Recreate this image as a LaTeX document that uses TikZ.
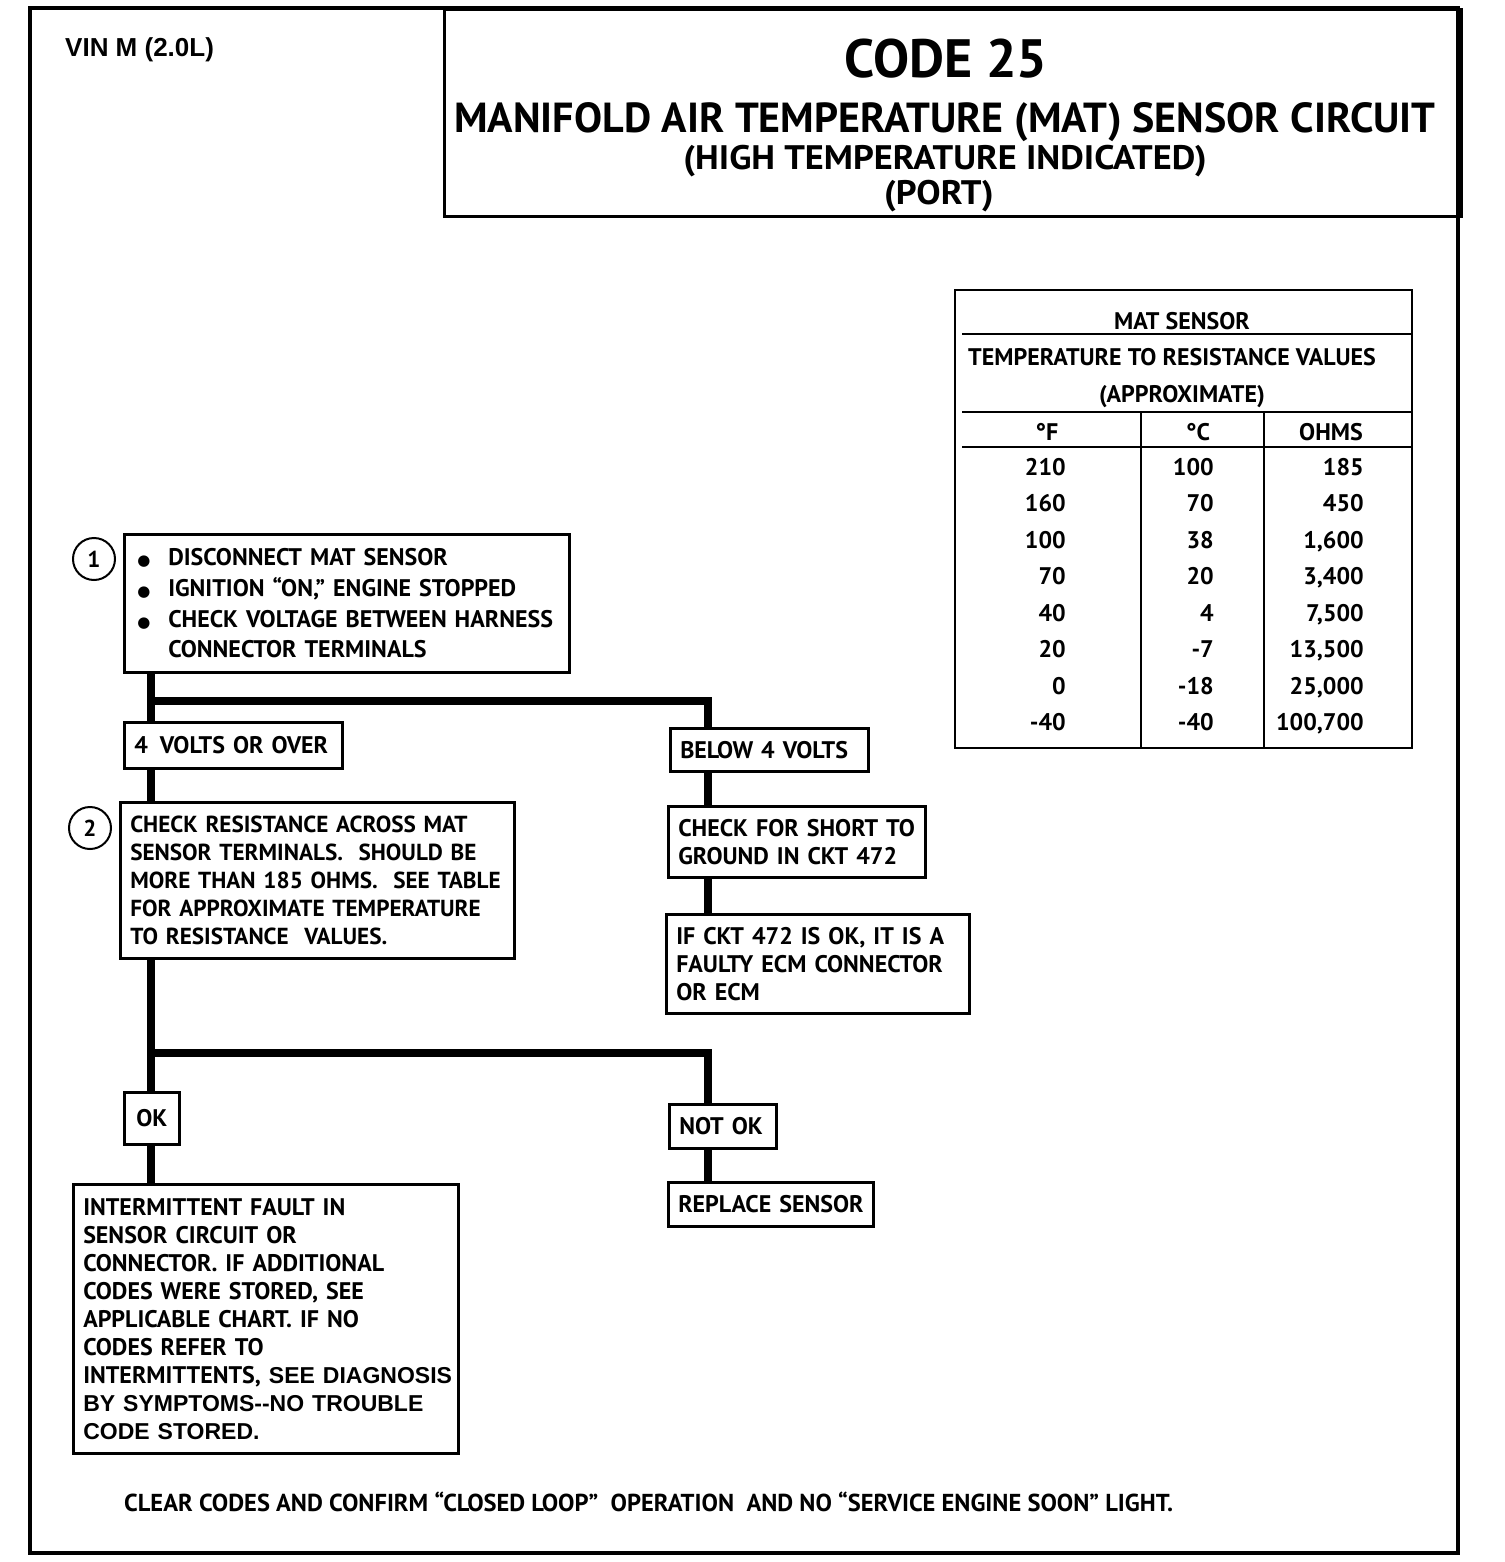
\documentclass[tikz,border=0pt]{standalone}
\usepackage{fontspec}
\setmainfont{PT Sans}
\newfontfamily\hfont{PT Sans}
\newfontfamily\wfont[FakeStretch=1.07]{PT Sans}
\newfontfamily\bfont{PT Sans}
\newfontfamily\afont{Liberation Sans}
\newfontfamily\dfont{DejaVu Sans}
\newcommand\bul{\makebox[34pt][l]{\hspace{3pt}{\dfont\fontsize{15}{15}\selectfont ●}}}
\newcommand\li[1]{\mbox{#1}}
\newcommand\ar{\afont\bfseries\fontsize{23}{28}\selectfont}
\begin{document}
\begin{tikzpicture}[x=1pt,y=-1pt,
  box/.style={draw, line width=2.5pt, anchor=north west, align=left, inner xsep=10pt, inner ysep=0pt,
    font=\bfont\bfseries\fontsize{24}{28}\selectfont},
  trunk/.style={line width=8pt},
  circ/.style={circle, draw, line width=2pt, minimum size=42pt, inner sep=0pt, font=\bfont\bfseries\fontsize{23}{23}\selectfont},
  ttxt/.style={font=\bfont\bfseries\fontsize{24}{24}\selectfont, inner sep=0pt},
  thin/.style={line width=2.5pt}]
\useasboundingbox (0,0) rectangle (1504,1562);
\fill[white] (0,0) rectangle (1504,1562);
% outer frame
\draw[line width=4pt] (30,8) rectangle (1458,1553);
\node[font=\afont\bfseries\fontsize{26}{26}\selectfont, anchor=base west, inner sep=0pt] (vin) at (65,57) {VIN M (2.0L)};
% title box
\node[draw, line width=3pt, anchor=north west, minimum width=1017pt, minimum height=207pt, inner sep=0pt] (tbox) at (443,8) {};
\node[font=\hfont\bfseries\fontsize{54}{54}\selectfont, anchor=base, inner sep=0pt] (code) at (946,78) {CODE 25};
\node[font=\hfont\bfseries\fontsize{42}{42}\selectfont, anchor=base, inner sep=0pt] (t1) at (945,133) {MANIFOLD AIR TEMPERATURE (MAT) SENSOR CIRCUIT};
\node[font=\wfont\bfseries\fontsize{34}{34}\selectfont, anchor=base, inner sep=0pt] (t2) at (945,170) {(HIGH TEMPERATURE INDICATED)};
\node[font=\wfont\bfseries\fontsize{34}{34}\selectfont, anchor=base, inner sep=0pt] (t3) at (939,205) {(PORT)};
% table
\draw[thin] (955,290) rectangle (1412,748);
\draw[thin] (962,334) -- (1412,334);
\draw[thin] (962,412) -- (1412,412);
\draw[thin] (962,447) -- (1412,447);
\draw[thin] (1141,412) -- (1141,748);
\draw[thin] (1264,412) -- (1264,748);
\node[ttxt, anchor=base] (th1) at (1182,329) {MAT SENSOR};
\node[ttxt, anchor=base west] (th2) at (968,365) {TEMPERATURE TO RESISTANCE VALUES};
\node[ttxt, anchor=base] (th3) at (1182,402) {(APPROXIMATE)};
\node[ttxt, anchor=base] (hf) at (1047,440) {°F};
\node[ttxt, anchor=base] (hc) at (1198,440) {°C};
\node[ttxt, anchor=base] (ho) at (1331,440) {OHMS};
\foreach \f/\c/\o [count=\i] in {210/100/185, 160/70/450, 100/38/{1,600}, 70/20/{3,400}, 40/4/{7,500}, 20/-7/{13,500}, 0/-18/{25,000}, -40/-40/{100,700}}{
  \node[ttxt, anchor=base east] (rf\i) at (1066,{475+36.5*(\i-1)}) {\f};
  \node[ttxt, anchor=base east] (rc\i) at (1214,{475+36.5*(\i-1)}) {\c};
  \node[ttxt, anchor=base east] (ro\i) at (1364,{475+36.5*(\i-1)}) {\o};
}
% flowchart
\coordinate (L) at (151,0);
\coordinate (R) at (708,0);
\node[circ] (c1) at (94,559) {1};
\node[box, text width=425pt, minimum height=138pt, font=\bfont\bfseries\fontsize{24}{30.7}\selectfont] (s1) at (123,533)
  {\li{\bul DISCONNECT MAT SENSOR}\\ \li{\bul IGNITION “ON,” ENGINE STOPPED}\\ \li{\bul CHECK VOLTAGE BETWEEN HARNESS}\\ \li{\hspace*{34pt}CONNECTOR TERMINALS}};
\node[box, text width=198pt, minimum height=46pt] (v4) at (123,721) {\li{4\, VOLTS OR OVER}};
\node[circ] (c2) at (90,828) {2};
\node[box, text width=374pt, minimum height=156pt, font=\bfont\bfseries\fontsize{23.2}{28}\selectfont] (s2) at (119,801)
  {\li{CHECK RESISTANCE ACROSS MAT}\\ \li{SENSOR TERMINALS.\ \ SHOULD BE}\\ \li{MORE THAN 185 OHMS.\ \ SEE TABLE}\\ \li{FOR APPROXIMATE TEMPERATURE}\\ \li{TO RESISTANCE\ \ VALUES.}};
\node[box, text width=35pt, minimum height=52pt, align=center] (ok) at (123,1091) {OK};
\node[box, text width=365pt, minimum height=269pt] (im) at (72,1183)
  {\li{INTERMITTENT FAULT IN}\\ \li{SENSOR CIRCUIT OR}\\ \li{CONNECTOR.\ IF ADDITIONAL}\\ \li{CODES WERE STORED, SEE}\\ \li{APPLICABLE CHART.\ IF NO}\\ \li{CODES REFER TO}\\ \li{INTERMITTENTS, {\ar SEE DIAGNOSIS}}\\ \li{\ar BY SYMPTOMS{-}{-}NO TROUBLE}\\ \li{\ar CODE STORED.}};
\node[box, text width=178pt, minimum height=43pt] (b4) at (669,727) {\li{BELOW 4 VOLTS}};
\node[box, text width=237pt, minimum height=71pt] (sh) at (667,805) {\li{CHECK FOR SHORT TO}\\ \li{GROUND IN CKT 472}};
\node[box, text width=283pt, minimum height=99pt] (ec) at (665,913) {\li{IF CKT 472 IS OK, IT IS A}\\ \li{FAULTY ECM CONNECTOR}\\ \li{OR ECM}};
\node[box, text width=87pt, minimum height=44pt] (nok) at (668,1103) {\li{NOT OK}};
\node[box, text width=185pt, minimum height=44pt] (rs) at (667,1181) {\li{REPLACE SENSOR}};
% connectors
\draw[trunk] (s1.south -| L) -- (v4.north -| L);
\draw[trunk] (s1.south -| L) ++(0,27) -| (b4.north -| R);
\draw[trunk] (v4.south -| L) -- (s2.north -| L);
\draw[trunk] (s2.south -| L) -- (ok.north -| L);
\draw[trunk] (s2.south -| L) ++(0,93) -| (nok.north -| R);
\draw[trunk] (ok.south -| L) -- (im.north -| L);
\draw[trunk] (b4.south -| R) -- (sh.north -| R);
\draw[trunk] (sh.south -| R) -- (ec.north -| R);
\draw[trunk] (nok.south -| R) -- (rs.north -| R);
% footer
\node[font=\hfont\bfseries\fontsize{24.5}{24.5}\selectfont, anchor=base west, inner sep=0pt] (ft) at (124,1511)
  {CLEAR CODES AND CONFIRM “CLOSED LOOP”\ \ OPERATION\ \ AND NO “SERVICE ENGINE SOON” LIGHT.};
\end{tikzpicture}
\end{document}
